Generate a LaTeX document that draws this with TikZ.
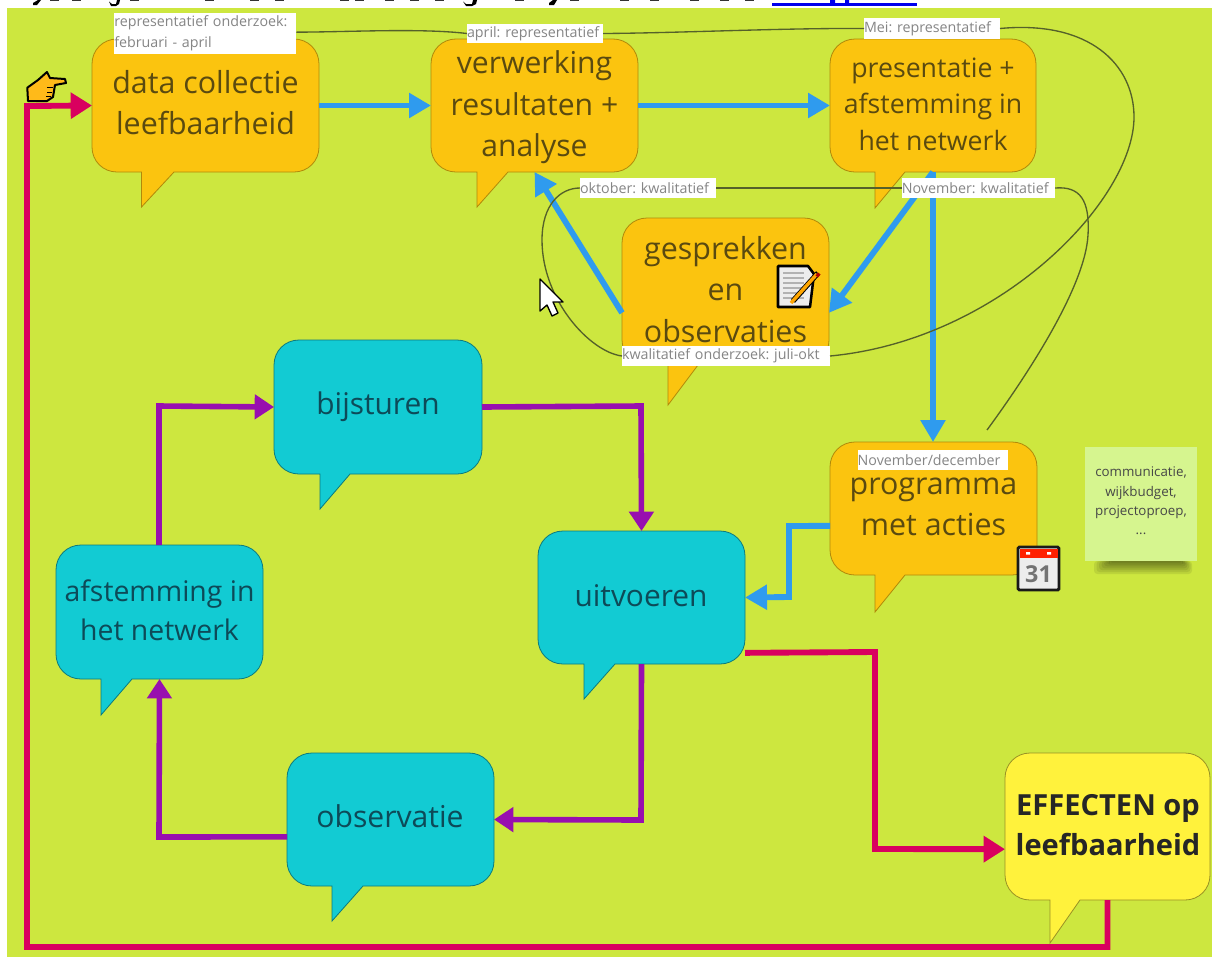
\documentclass[tikz,border=0pt]{standalone}
\usepackage{fontspec}
\setmainfont{Open Sans}
\usetikzlibrary{arrows.meta}
\definecolor{bgc}{HTML}{CDE73F}
\definecolor{orangec}{HTML}{FBC40F}
\definecolor{tealc}{HTML}{12CBD3}
\definecolor{yellowc}{HTML}{FFF23C}
\definecolor{bluec}{HTML}{2F9BEE}
\definecolor{purplec}{HTML}{980FAF}
\definecolor{pinkc}{HTML}{D9005F}
\definecolor{wirec}{HTML}{55612A}
\definecolor{otext}{HTML}{5A4A10}
\definecolor{ttext}{HTML}{0D4A58}
\definecolor{stickyc}{HTML}{D6F58F}
\tikzset{
  x=0.75pt,y=-0.75pt,
  bubbox/.style={inner sep=0pt,outer sep=0pt},
  obub/.style={fill=orangec,draw=orangec!70!black,line width=0.6pt},
  tbub/.style={fill=tealc,draw=tealc!60!black,line width=0.6pt},
  ybub/.style={fill=yellowc,draw=yellowc!60!black,line width=0.6pt},
  otxt/.style={inner sep=0pt,align=center,text=otext,font=\fontsize{#1}{31.2}\selectfont},
  ptxt/.style={inner sep=0pt,align=center,text=otext,font=\fontsize{20}{27.4}\selectfont},
  ttxt/.style={inner sep=0pt,align=center,text=ttext,font=\fontsize{#1}{29.5}\selectfont},
  ytxt/.style={inner sep=0pt,align=center,text=black!85,font=\fontsize{21.8}{30}\selectfont\bfseries},
  bluearr/.style={draw=bluec,line width=4.4pt,-{Triangle[length=16.5pt,width=18pt]}},
  purarr/.style={draw=purplec,line width=4.2pt,-{Triangle[length=14.5pt,width=18pt]}},
  pinkarr/.style={draw=pinkc,line width=4.4pt,-{Triangle[length=16pt,width=19pt]}},
  wire/.style={draw=wirec,line width=1pt},
  note/.style={fill=white,inner sep=0pt,outer sep=0pt,text=black!48,align=left,font=\fontsize{10.7}{15.7}\selectfont\frenchspacing},
}
% name, x1, y1, x2, y2, tail left, tail right, tail tip y, style
\newcommand\bubble[9]{%
  \node[bubbox,minimum width={(#4-#2)*0.75pt},minimum height={(#5-#3)*0.75pt}] (#1) at ({(#2+#4)/2},{(#3+#5)/2}) {};
  \path[#9] (#7,#5) -- (#4-25,#5) .. controls (#4-11,#5) and (#4,#5-11) .. (#4,#5-25)
    -- (#4,#3+25) .. controls (#4,#3+11) and (#4-11,#3) .. (#4-25,#3)
    -- (#2+25,#3) .. controls (#2+11,#3) and (#2,#3+11) .. (#2,#3+25)
    -- (#2,#5-25) .. controls (#2,#5-11) and (#2+11,#5) .. (#2+25,#5)
    -- (#6,#5) -- (#6,#8) -- cycle;
}
\begin{document}
\begin{tikzpicture}
\useasboundingbox (0,0) rectangle (1212,957);
\fill[white] (0,0) rectangle (1212,957);
\fill[bgc] (7,8) rectangle (1212,957);
% clipped header remnants
\fill[blue!93!black] (772,3) rectangle (917,5.5);
\fill[blue!93!black] (830,0) rectangle (835,3) (845,0) rectangle (849,3);
\fill[black] (33,3) -- (38,0) -- (41,0) -- (37,5) -- (33,5) -- cycle;
\fill[black] (109,1.5) -- (112,4) -- (116,4) -- (117,0) -- (120,0) -- (119,4) -- (116,6) -- (111,6) -- cycle;
\fill[black] (463,1.5) -- (466,4) -- (472,4) -- (473,0) -- (477,0) -- (476,4) -- (472,6) -- (466,6) -- cycle;
\fill[black] (549,3) -- (553,0) -- (557,0) -- (554,5) -- (549,5) -- cycle;
\foreach \dx in {50,72,130,205,250,275,340,355,385,410,435,515,570,620,650,690,720,745}{
  \fill[black!80] (\dx,0) rectangle (\dx+9,1);
}

% bubbles
\bubble{data}{92}{39}{319}{172}{141.5}{174}{207}{obub}
\bubble{verw}{431}{39}{638}{172}{477}{508}{207}{obub}
\bubble{pres}{830}{39}{1036}{172}{875}{905}{208}{obub}
\bubble{gesp}{622}{218}{829}{365}{668}{698}{405}{obub}
\bubble{prog}{830}{442}{1037}{575}{875}{905}{612}{obub}
\bubble{bijs}{274}{340}{482}{474}{320}{350}{509}{tbub}
\bubble{uitv}{538}{531}{745}{664}{584}{615}{699}{tbub}
\bubble{afst}{56}{545}{263}{679}{101}{132}{715}{tbub}
\bubble{obse}{287}{753}{494}{886}{332}{363}{921}{tbub}
\bubble{effe}{1005}{753}{1210}{900}{1050}{1080}{943}{ybub}

% bubble texts
\node[otxt=22.8] (tdata) at (205.5,102.5) {data collectie\\leefbaarheid};
\node[otxt=22.6] (tverw) at (534.5,107.5) {verwerking\\resultaten +\\analyse};
\node[ptxt] (tpres) at (933,104) {presentatie +\\afstemming in\\het netwerk};
\node[otxt=22.8] (tgesp) at (725.5,289.5) {gesprekken\\en\\observaties};
\node[otxt=22.8] (tprog) at (933.5,507) {programma\\met acties};
\node[ttxt=22.4] (tbijs) at (378,406.5) {bijsturen};
\node[ttxt=22.4] (tuitv) at (641,595.5) {uitvoeren};
\node[ttxt=21.3] (tafst) at (159.5,610) {afstemming in\\het netwerk};
\node[ttxt=22.6] (tobse) at (390,816.5) {observatie};
\node[ytxt] (teffe) at (1108,825) {EFFECTEN op\\leefbaarheid};

% turning points
\coordinate (bk1) at (789,526);
\coordinate (bk2) at (789,597);
\coordinate (uk1) at (159,406);
\coordinate (uk2) at (641,406);
\coordinate (uk3) at (641,820);
\coordinate (uk4) at (159,837);
\coordinate (pk1) at (875,652);
\coordinate (pk2) at (875,849);
\coordinate (pk3) at (1107.5,947);
\coordinate (pk4) at (27,947);
\coordinate (pk5) at (27,106);

% blue connectors
\draw[bluearr] (data.east) -- (verw.west);
\draw[bluearr] (verw.east) -- (pres.west);
\draw[bluearr] ([yshift=-16pt]gesp.west) -- (verw.south);
\draw[bluearr] (pres.south) -- ([yshift=-16pt]gesp.east);
\draw[bluearr] (pres.south) -- (pres.south |- prog.north);
\draw[bluearr] ([yshift=-13pt]prog.west) -- (bk1) -- (bk2) -- (uitv.east);
% purple connectors
\draw[purarr] (afst.north -| uk1) -- (uk1) -- (bijs.west);
\draw[purarr] (bijs.east) -- (uk2) -- (uitv.north);
\draw[purarr] (uitv.south) -- (uk3) -- (obse.east);
\draw[purarr] ([yshift=-13pt]obse.west) -- (uk4) -- (afst.south);
% pink connectors
\draw[pinkarr] ([yshift=-41.5pt]uitv.east) -- (pk1) -- (pk2) -- ([yshift=-17pt]effe.west);
\draw[pinkarr] (effe.south) -- (pk3) -- (pk4) -- (pk5) -- (data.west);

% labels
\node[note,minimum height=31pt,text width=136.5pt] (lrep) at (205.3,33.5) {representatief onderzoek:\\februari - april};
\node[note,minimum height=14.5pt,text width=102pt] (lapr) at (535,33.5) {april: representatief};
\node[note,minimum height=15.5pt,text width=102pt] (lmei) at (932,28.5) {Mei: representatief};
\node[note,minimum height=15pt,text width=102pt] (lokt) at (648,188) {oktober: kwalitatief};
\node[note,minimum height=15pt,text width=115pt] (lnov) at (978.5,188) {November: kwalitatief};
\node[note,minimum height=15pt,text width=156pt] (lkwa) at (726,356) {kwalitatief onderzoek: juli-okt};
\node[note,minimum height=15pt,text width=113pt] (lpro) at (933,460) {November/december};

% thin wires
\coordinate (wireend) at (987,430);
\draw[wire] ([yshift=1pt]lrep.east) .. controls (350,32) and (420,28) .. (lapr.west);
\draw[wire] (lapr.east) .. controls (680,33) and (780,28) .. (lmei.west);
\draw[wire] (lmei.east) .. controls (1090,20) and (1134,65) .. (1134,117) .. controls (1134,200) and (1000,340) .. (lkwa.east);
\draw[wire] (lkwa.west) .. controls (590,352) and (542,300) .. (542,240) .. controls (542,205) and (560,188) .. (lokt.west);
\draw[wire] (lokt.east) -- (lnov.west);
\draw[wire] (lnov.east) .. controls (1080,186) and (1090,200) .. (1088,235) .. controls (1085,290) and (1020,385) .. (wireend);

% sticky note
\foreach \i in {0,...,6}{
  \fill[black,opacity=0.08,rounded corners=2.5pt] ({1094+\i*2.5},561) rectangle ({1192-\i*1.5},{574-\i*1.9});
}
\fill[stickyc] (1085,447) rectangle (1197,561);
\node[inner sep=0pt,align=center,text=black!72,font=\fontsize{10}{14.5}\selectfont] (tnote) at (1141,501) {communicatie,\\wijkbudget,\\projectoproep,\\...};

% pointing hand
\draw[fill=orange!60!yellow!90!white,draw=black,line width=1.5pt,line join=round]
  (27.3,87.7) -- (38,80) -- (47,72) -- (50,78) -- (65,79) -- (66,83) -- (55,85) -- (53,97) -- (47,101) -- (28,101) -- cycle;
\draw[black,line width=0.7pt] (47,87) -- (53,87) (47,92) -- (52,92) (46,96) -- (51,96);

% notepad with pencil
\path[fill=white!93!black,draw=black,line width=1.9pt,line join=round] (778,266) -- (808,266) -- (814,274) -- (810,307) -- (778,307) -- cycle;
\foreach \yy in {273,278,283,288,293,298}{ \draw[black!30,line width=1pt] (783,\yy) -- (804,\yy); }
\draw[black,line width=4pt] (793,301) -- (818,273);
\draw[orange!70!yellow,line width=2.6pt] (791,303) -- (817,274);
\fill[red!70!black] (815.5,275.5) -- (818,272.5) -- (820.5,274.5) -- (818,277.5) -- cycle;

% calendar
\path[fill=white!93!black,draw=black!90,line width=2.2pt,rounded corners=1pt] (1018,547) rectangle (1059,590);
\fill[red!75!orange] (1019.5,549) rectangle (1057.5,558);
\fill[white] (1026,552) rectangle (1030,554.5) (1047,552) rectangle (1051,554.5);
\node[inner sep=0pt,text=black!55,font=\fontsize{17.5}{18}\selectfont\bfseries] (tcal) at (1038.5,574) {31};

% mouse cursor
\draw[fill=white,draw=black,line width=1pt,line join=round] (540,279) -- (540,311) -- (547,305) -- (552,316) -- (558,313) -- (553,302) -- (563,302) -- cycle;
\end{tikzpicture}
\end{document}
